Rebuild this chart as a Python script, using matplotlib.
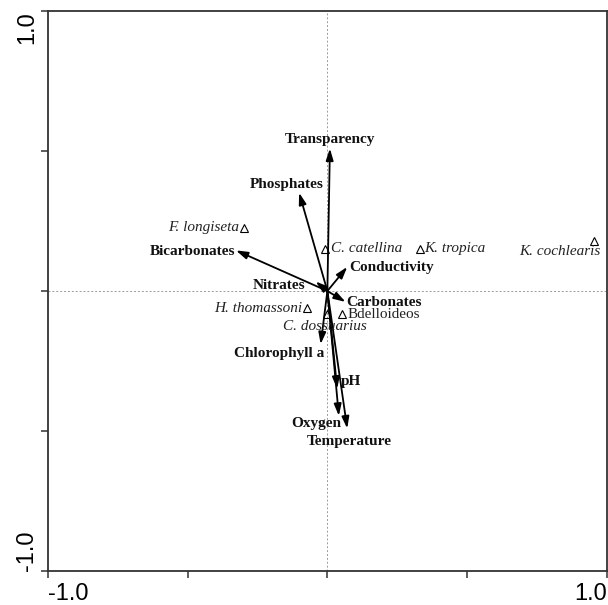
import matplotlib.pyplot as plt

# environmental vectors (axis 1, axis 2)
env_names = ["Transparency", "Phosphates", "Bicarbonates", "Conductivity", "Nitrates",
             "Carbonates", "Chlorophyll a", "pH", "Oxygen", "Temperature"]
env_x = [0.009, -0.101, -0.327, 0.071, -0.042, 0.065, -0.024, 0.035, 0.041, 0.071]
env_y = [0.509, 0.351, 0.145, 0.086, 0.034, -0.039, -0.190, -0.349, -0.446, -0.491]

# species scores
sp_names = ["F. longiseta", "C. catellina", "K. tropica", "K. cochlearis",
            "H. thomassoni", "Bdelloideos", "C. dossuarius"]
sp_x = [-0.298, -0.009, 0.330, 0.952, -0.073, 0.053, -0.001]
sp_y = [0.226, 0.151, 0.151, 0.179, -0.062, -0.083, -0.083]
sp_italic = [True, True, True, True, True, False, True]

tick_vals = [-1.0, -0.5, 0.0, 0.5, 1.0]
tick_text = ["-1.0", "", "", "", "1.0"]

# label placement (pixel offsets from the point, alignment)
env_off = [(0, 9, "center"), (-12, 8, "center"), (-1, -1, "right"), (2, -1, "left"),
           (-10, -4, "right"), (1, -1, "left"), (4, -9, "right"), (4, 7, "left"),
           (2, -8, "right"), (2, -13, "center")]
sp_off = [(-5, 0, "right"), (6, 0, "left"), (5, 0, "left"), (7, -11, "right"),
          (-5, 0, "right"), (5, 0, "left"), (-2, -12, "center")]

fig = plt.figure(figsize=(6.08, 6.05), dpi=100)
ax = fig.add_axes([0.0785, 0.0562, 0.9199, 0.9256])
ax.set_xlim(-1, 1)
ax.set_ylim(-1, 1)

ax.axhline(0, color="#9a9a9a", lw=0.7, ls=(0, (2, 2)), zorder=0)
ax.axvline(0, color="#9a9a9a", lw=0.7, ls=(0, (2, 2)), zorder=0)

# arrows + labels
for name, x, y, (dx, dy, ha) in zip(env_names, env_x, env_y, env_off):
    ax.annotate("", xy=(x, y), xytext=(0, 0),
                arrowprops=dict(arrowstyle="-|>,head_length=0.7,head_width=0.22",
                                color="black", lw=1.3, shrinkA=0, shrinkB=0))
    ax.annotate(name, xy=(x, y), xytext=(dx, dy), textcoords="offset pixels",
                ha=ha, va="center", fontsize=11, fontweight="bold",
                family="Liberation Serif", color="#111111")

# species
ax.plot(sp_x, sp_y, ls="none", marker="^", ms=6, mfc="none", mec="black", mew=0.8)
for name, x, y, it, (dx, dy, ha) in zip(sp_names, sp_x, sp_y, sp_italic, sp_off):
    ax.annotate(name, xy=(x, y), xytext=(dx, dy), textcoords="offset pixels",
                ha=ha, va="center", fontsize=11, style="italic" if it else "normal",
                family="Liberation Serif", color="#222222")

# axes styling
for s in ax.spines.values():
    s.set_color("#333333")
    s.set_linewidth(1.3)
ax.set_xticks(tick_vals)
ax.set_xticklabels(tick_text)
ax.set_yticks(tick_vals)
ax.set_yticklabels(tick_text, rotation=90)
ax.tick_params(direction="out", length=5, width=1.1, color="#333333",
               labelsize=17, pad=4)
ax.tick_params(axis="y", pad=2)
for lbl in ax.get_xticklabels() + ax.get_yticklabels():
    lbl.set_family("Liberation Sans")
xl = ax.get_xticklabels()
xl[0].set_ha("left")
xl[-1].set_ha("right")
yl = ax.get_yticklabels()
yl[0].set_va("bottom")
yl[-1].set_va("top")

fig.savefig("out.png", dpi=100)
